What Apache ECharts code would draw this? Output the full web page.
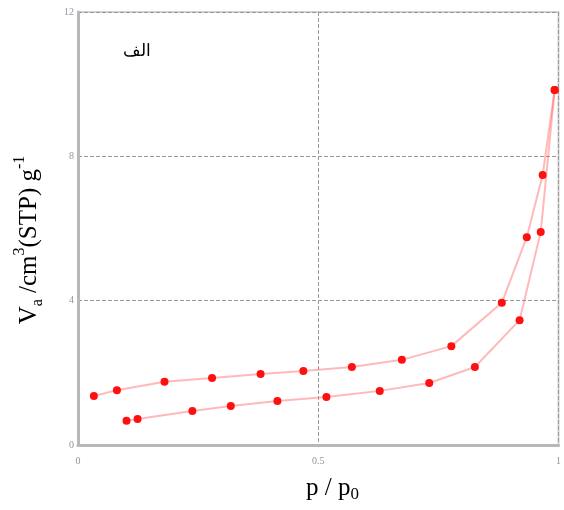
<!DOCTYPE html>
<html>
<head>
<meta charset="utf-8">
<script src="https://cdn.jsdelivr.net/npm/echarts@6/dist/echarts.min.js"></script>
<style>
html, body { margin: 0; padding: 0; background: #fff; }
#chart { width: 564px; height: 510px; }
</style>
</head>
<body>
<div id="chart"></div>
<script>
// desorption branch (upper)
var desorbX = [0.033, 0.081, 0.18, 0.279, 0.38, 0.469, 0.570, 0.674, 0.777, 0.882, 0.934, 0.967, 0.992];
var desorbY = [1.36, 1.52, 1.75, 1.86, 1.97, 2.05, 2.16, 2.36, 2.74, 3.94, 5.76, 7.48, 9.84];
// adsorption branch (lower)
var adsorbX = [0.101, 0.124, 0.238, 0.318, 0.415, 0.517, 0.628, 0.731, 0.826, 0.919, 0.963, 0.992];
var adsorbY = [0.67, 0.72, 0.94, 1.08, 1.22, 1.33, 1.50, 1.72, 2.16, 3.46, 5.90, 9.84];

function pairs(xs, ys) {
    var out = [];
    for (var i = 0; i < xs.length; i++) out.push([xs[i], ys[i]]);
    return out;
}

var chart = echarts.init(document.getElementById('chart'));

var lineStyle = { color: 'rgba(255,80,80,0.4)', width: 2 };
var markStyle = { color: '#ff1010' };

chart.setOption({
    animation: false,
    grid: {
        left: 78, right: 2, top: 12, bottom: 65,
        show: true, borderColor: '#d2d2d2', borderWidth: 2
    },
    xAxis: {
        type: 'value', min: 0, max: 1, interval: 0.5,
        axisLine: { lineStyle: { color: '#b8b8b8', width: 3 } },
        axisTick: { show: false },
        axisLabel: { color: '#8f95a6', fontSize: 10, margin: 11, fontFamily: 'Liberation Serif' },
        splitLine: { lineStyle: { color: '#9a9a9a', type: [4, 2], width: 1 } }
    },
    yAxis: {
        type: 'value', min: 0, max: 12, interval: 4,
        axisLine: { show: true, lineStyle: { color: '#b8b8b8', width: 3 } },
        axisTick: { show: false },
        axisLabel: { color: '#8f95a6', fontSize: 10, margin: 4, fontFamily: 'Liberation Serif' },
        splitLine: { lineStyle: { color: '#9a9a9a', type: [4, 2], width: 1 } }
    },
    series: [{
        type: 'line', data: pairs(desorbX, desorbY),
        symbol: 'circle', symbolSize: 8,
        lineStyle: lineStyle, itemStyle: markStyle
    }, {
        type: 'line', data: pairs(adsorbX, adsorbY),
        symbol: 'circle', symbolSize: 8,
        lineStyle: lineStyle, itemStyle: markStyle
    }],
    graphic: [{
        type: 'text', left: 123, top: 43,
        style: { text: 'الف', font: '17px "Noto Sans"', fill: '#000' }
    }, {
        type: 'text', left: 306, top: 476,
        style: {
            text: '{b|p / p}{s|0}',
            rich: {
                b: { fontFamily: 'Liberation Serif', fontSize: 25, fill: '#000', lineHeight: 30 },
                s: { fontFamily: 'Liberation Serif', fontSize: 17, fill: '#000', verticalAlign: 'bottom', lineHeight: 30, padding: [5, 0, 0, 0] }
            }
        }
    }, {
        type: 'text', x: 29, y: 240, rotation: Math.PI / 2,
        style: {
            text: '{b|V}{s|a}{b| /cm}{p|3}{b|(STP) g}{p|-1}',
            align: 'center', verticalAlign: 'middle',
            rich: {
                b: { fontFamily: 'Liberation Serif', fontSize: 25, fill: '#000', lineHeight: 34 },
                s: { fontFamily: 'Liberation Serif', fontSize: 16, fill: '#000', verticalAlign: 'bottom', lineHeight: 34, padding: [9, 0, 0, 0] },
                p: { fontFamily: 'Liberation Serif', fontSize: 16, fill: '#000', verticalAlign: 'top', lineHeight: 34, padding: [0, 0, 11, 0] }
            }
        }
    }]
});
</script>
</body>
</html>
